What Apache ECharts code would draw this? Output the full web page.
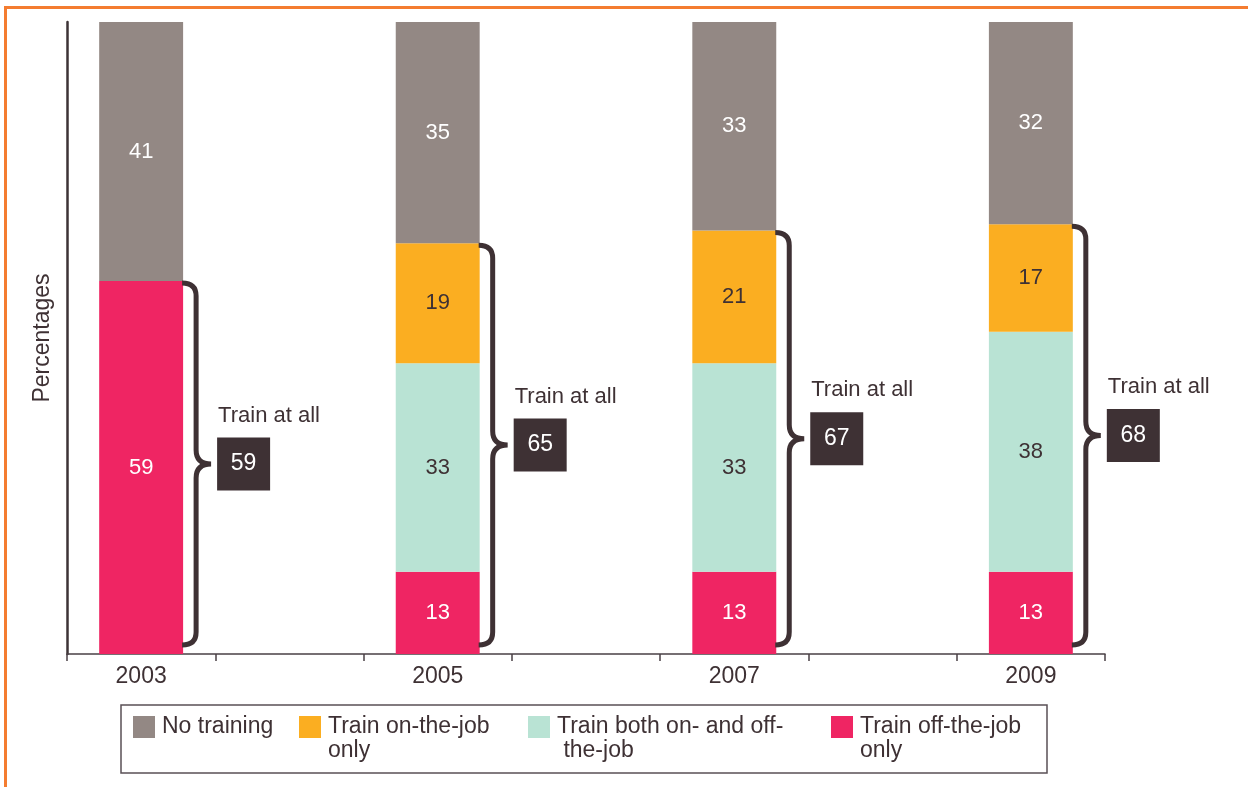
<!DOCTYPE html>
<html>
<head>
<meta charset="utf-8">
<script src="https://cdn.jsdelivr.net/npm/echarts@6/dist/echarts.min.js"></script>
<style>
html,body{margin:0;padding:0;background:#fff;}
#main{width:1248px;height:787px;}
</style>
</head>
<body>
<div id="main"></div>
<script>
// ---- data ----
const years = ['2003', '2005', '2007', '2009'];
const offJobOnly = [59, 13, 13, 13];
const bothOnOff = [null, 33, 33, 38];
const onJobOnly = [null, 19, 21, 17];
const noTraining = [41, 35, 33, 32];
const trainAtAll = [59, 65, 67, 68];
const seriesNames = ['Train off-the-job only', 'Train both on- and off-the-job', 'Train on-the-job only', 'No training'];
const legendLabels = {
  'No training': 'No training',
  'Train on-the-job only': 'Train on-the-job\nonly',
  'Train both on- and off-the-job': 'Train both on- and off-\n the-job',
  'Train off-the-job only': 'Train off-the-job\nonly'
};
const annotationText = 'Train at all';

// ---- styling ----
const DARK = '#3E3134';
const FONT = '"Liberation Sans", Arial, sans-serif';
const colors = {
  'No training': '#938884',
  'Train on-the-job only': '#FBAE21',
  'Train both on- and off-the-job': '#B9E3D4',
  'Train off-the-job only': '#EF2563'
};
const labelColors = {
  'No training': '#ffffff',
  'Train on-the-job only': DARK,
  'Train both on- and off-the-job': DARK,
  'Train off-the-job only': '#ffffff'
};

// category slots: year, gap, year, gap ...
const categories = [];
years.forEach((y, i) => { categories.push(y); if (i < years.length - 1) categories.push('gap' + i); });
function spread(arr) {
  const out = [];
  arr.forEach((v, i) => { out.push(v == null ? '-' : v); if (i < arr.length - 1) out.push('-'); });
  return out;
}
const valuesByName = {
  'Train off-the-job only': offJobOnly,
  'Train both on- and off-the-job': bothOnOff,
  'Train on-the-job only': onJobOnly,
  'No training': noTraining
};

const BAR_FRAC = 0.566;

const barSeries = seriesNames.map(name => ({
  name: name,
  type: 'bar',
  stack: 'total',
  barWidth: (BAR_FRAC * 100) + '%',
  data: spread(valuesByName[name]),
  itemStyle: { color: colors[name] },
  label: {
    show: true,
    position: 'inside',
    color: labelColors[name],
    fontSize: 22,
    fontFamily: FONT
  },
  emphasis: { disabled: true },
  animation: false
}));

const braceSeries = {
  type: 'custom',
  name: 'brace',
  clip: false,
  animation: false,
  z: 5,
  encode: { x: 0, y: 1 },
  data: years.map((y, i) => [i * 2, trainAtAll[i]]),
  renderItem: function (params, api) {
    const idx = api.value(0);
    const total = api.value(1);
    const c0 = api.coord([idx, 0]);
    const cT = api.coord([idx, total]);
    const bandW = api.size([1, 0])[0];
    const x0 = c0[0] + bandW * BAR_FRAC / 2;
    const xv = x0 + 13;
    const xt = x0 + 28;
    const yT = cT[1] + 2;
    const yB = c0[1] - 9;
    const yM = (yT + yB) / 2;
    const r = 13, r2 = 14;
    const d = 'M' + (x0 - 1) + ',' + yT +
      ' Q' + xv + ',' + yT + ' ' + xv + ',' + (yT + r) +
      ' L' + xv + ',' + (yM - r2) +
      ' Q' + xv + ',' + yM + ' ' + xt + ',' + yM +
      ' Q' + xv + ',' + yM + ' ' + xv + ',' + (yM + r2) +
      ' L' + xv + ',' + (yB - r) +
      ' Q' + xv + ',' + yB + ' ' + (x0 - 1) + ',' + yB;
    const bx = xt + 6, bs = 53;
    return {
      type: 'group',
      children: [
        { type: 'path', shape: { pathData: d }, style: { stroke: DARK, lineWidth: 5, fill: null } },
        { type: 'rect', shape: { x: bx, y: yM - bs / 2, width: bs, height: bs }, style: { fill: DARK } },
        { type: 'text', style: { text: String(total), x: bx + bs / 2, y: yM, align: 'center', verticalAlign: 'middle', fill: '#ffffff', fontSize: 23, fontFamily: FONT } },
        { type: 'text', style: { text: annotationText, x: bx + 1, y: yM - bs / 2 - 22, align: 'left', verticalAlign: 'middle', fill: DARK, fontSize: 22, fontFamily: FONT } }
      ]
    };
  }
};

const legendItems = [
  { name: 'No training', left: 133, top: 715, two: false },
  { name: 'Train on-the-job only', left: 299, top: 691, two: true },
  { name: 'Train both on- and off-the-job', left: 528, top: 691, two: true },
  { name: 'Train off-the-job only', left: 831, top: 691, two: true }
];
const legends = legendItems.map(it => ({
  data: [it.name],
  left: it.left,
  top: it.top,
  orient: 'horizontal',
  padding: 0,
  itemWidth: 22,
  itemHeight: 22,
  icon: 'rect',
  selectedMode: false,
  formatter: n => (it.two ? '\n' : '') + legendLabels[n],
  textStyle: {
    color: DARK,
    fontSize: 23,
    fontFamily: FONT,
    lineHeight: 24,
    padding: [0, 0, 0, 2]
  }
}));

const chart = echarts.init(document.getElementById('main'), null, { renderer: 'canvas' });
chart.setOption({
  animation: false,
  backgroundColor: '#ffffff',
  grid: { left: 67, right: 143, top: 22, bottom: 133, containLabel: false },
  legend: legends,
  xAxis: {
    type: 'category',
    data: categories,
    boundaryGap: true,
    axisLine: { show: true, lineStyle: { color: '#4a4045', width: 1.5 } },
    axisTick: { show: true, length: 7, lineStyle: { color: '#4a4045', width: 1.5 } },
    axisLabel: {
      color: DARK, fontSize: 23, fontFamily: FONT, margin: 11,
      formatter: v => (v.indexOf('gap') === 0 ? '' : v)
    },
    splitLine: { show: false }
  },
  yAxis: {
    type: 'value',
    min: 0,
    max: 100,
    name: 'Percentages',
    nameLocation: 'middle',
    nameGap: 13,
    nameRotate: 90,
    nameTextStyle: { color: DARK, fontSize: 23, fontFamily: FONT },
    axisLine: { show: true, lineStyle: { color: '#3d3336', width: 2.5 } },
    axisTick: { show: false },
    axisLabel: { show: false },
    splitLine: { show: false }
  },
  graphic: [
    { type: 'rect', shape: { x: 121, y: 705, width: 926, height: 68 }, style: { fill: null, stroke: '#5a5055', lineWidth: 1.5 }, silent: true },
    { type: 'line', shape: { x1: 4, y1: 7.5, x2: 1248, y2: 7.5 }, style: { stroke: '#F47C30', lineWidth: 3 }, silent: true },
    { type: 'line', shape: { x1: 5.5, y1: 6, x2: 5.5, y2: 787 }, style: { stroke: '#F47C30', lineWidth: 3 }, silent: true }
  ],
  series: barSeries.concat([braceSeries])
});
</script>
</body>
</html>
